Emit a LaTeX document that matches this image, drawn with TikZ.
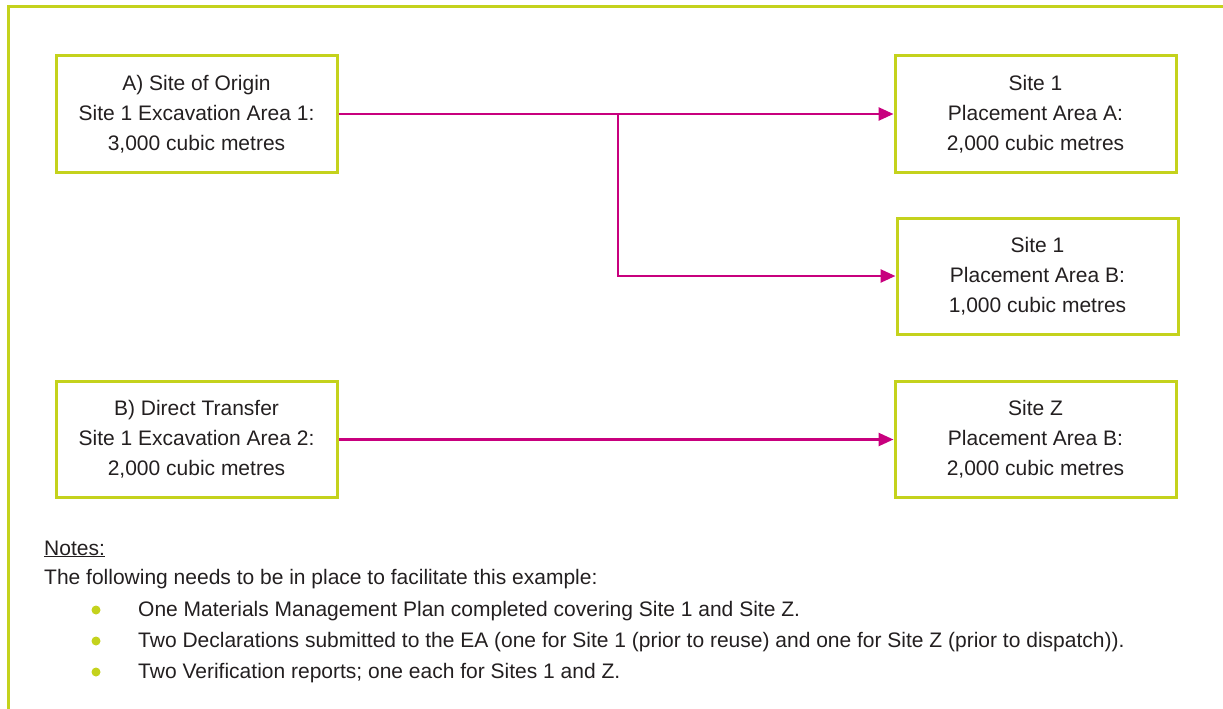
\documentclass[tikz,border=0pt]{standalone}
\usepackage{fontspec}
\setmainfont{Liberation Sans}
\usetikzlibrary{arrows.meta}
\definecolor{lime}{RGB}{196,210,28}
\definecolor{mag}{RGB}{200,0,126}
\definecolor{txt}{RGB}{35,31,32}
\tikzset{
  boxnode/.style={draw=lime, line width=3pt, minimum width=281pt, minimum height=116pt, align=center, inner sep=0pt, text=txt, font=\fontsize{21}{30}\selectfont},
  flow/.style={draw=mag, line width=2.6pt, -{Triangle[length=15pt,width=13pt]}},
  notetext/.style={anchor=base west, inner sep=0pt, text=txt, font=\fontsize{21}{30}\selectfont},
  bulletdot/.style={circle, fill=lime, inner sep=0pt, minimum size=9pt}
}
\begin{document}
\begin{tikzpicture}[x=1pt,y=-1pt]
\useasboundingbox (0,0) rectangle (1223,709);
\draw[lime, line width=3pt] (8,709) -- (8,7) -- (1223,7);
\node[boxnode] (A) at (196.5,114) {A) Site of Origin\\Site 1 Excavation Area 1:\\3,000 cubic metres};
\node[boxnode] (S1A) at (1035.5,114) {Site 1\\Placement Area A:\\2,000 cubic metres};
\node[boxnode] (S1B) at (1037.5,276) {Site 1\\Placement Area B:\\1,000 cubic metres};
\node[boxnode] (B) at (196.5,439.5) {B) Direct Transfer\\Site 1 Excavation Area 2:\\2,000 cubic metres};
\node[boxnode] (SZ) at (1035.5,439.5) {Site Z\\Placement Area B:\\2,000 cubic metres};
\coordinate (split) at (618,114);
\draw[flow] (A.east) -- (S1A.west);
\draw[flow] (split) |- (S1B.west);
\draw[flow] (B.east) -- (SZ.west);
\node[notetext] (n0) at (44,555) {\underline{Notes:}};
\node[notetext] (n1) at (44,584) {The following needs to be in place to facilitate this example:};
\node[notetext] (n2) at (138,616) {One Materials Management Plan completed covering Site 1 and Site Z.};
\node[notetext] (n3) at (138,647) {Two Declarations submitted to the EA (one for Site 1 (prior to reuse) and one for Site Z (prior to dispatch)).};
\node[notetext] (n4) at (138,678) {Two Verification reports; one each for Sites 1 and Z.};
\node[bulletdot] (b1) at (96,610) {};
\node[bulletdot] (b2) at (96,641) {};
\node[bulletdot] (b3) at (96,672) {};
\end{tikzpicture}
\end{document}
